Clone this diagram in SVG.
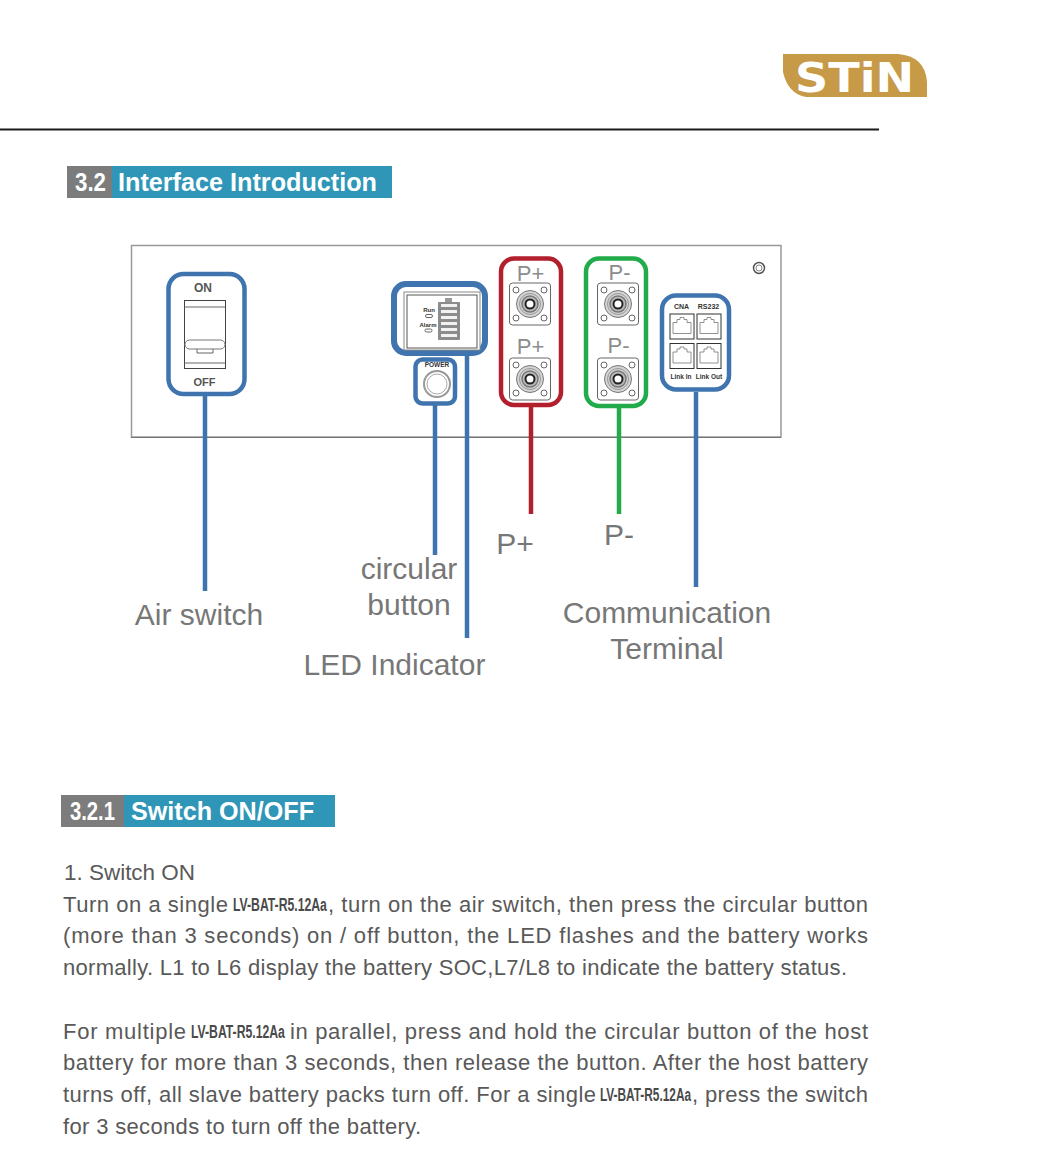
<svg xmlns="http://www.w3.org/2000/svg" width="1060" height="1171" viewBox="0 0 1060 1171">
<style>
text{font-family:"Liberation Sans",Arial,sans-serif}
.lbl{font-size:30px;fill:#777;text-anchor:middle}
.body{font-size:22px;fill:#595959}
.model{font-size:18px;fill:#4a4a4a;font-weight:700}
.part{font-size:22px;fill:#8c8c8c;text-anchor:middle}
.hd{font-size:25px;font-weight:700;fill:#fff}
.tiny{font-size:7px;fill:#333;font-weight:700;text-anchor:middle}
.sw{font-size:12px;fill:#555;font-weight:700;text-anchor:middle}
.box{fill:#fff;stroke-width:4.5}
.blue{stroke:#3f74ae}.red{stroke:#b21f2d}.green{stroke:#22ab4a}
.ln{fill:none;stroke-width:4.5}
.thin{fill:none;stroke:#666;stroke-width:1}
</style>
<defs>
<g id="conn">
<rect x="-20.500" y="-21" width="41" height="42" rx="3" class="thin"/>
<circle cx="-14" cy="-14" r="3" class="thin"/><circle cx="14" cy="-14" r="3" class="thin"/>
<circle cx="-14" cy="14" r="3" class="thin"/><circle cx="14" cy="14" r="3" class="thin"/>
<circle r="13.500" fill="#d4d4d4" stroke="#777" stroke-width="1"/>
<circle r="10.500" fill="none" stroke="#999" stroke-width="1"/>
<circle r="8" fill="#bbb" stroke="#777" stroke-width="1.500"/>
<circle r="4.500" fill="#fff" stroke="#222" stroke-width="2"/>
</g>
<g id="rj">
<rect x="-12" y="-12.500" width="24" height="25" fill="#fff" stroke="#333" stroke-width="1"/>
<path d="M-9,7V-4H-5V-7H-2V-9H2V-7H5V-4H9V7Z" fill="none" stroke="#777" stroke-width="0.800"/>
</g>
</defs>
<rect width="1060" height="1171" fill="#fff"/>

<g id="logo">
<path d="M783,54H898Q925,56 927,82V97H806Q788,94 783,72Z" fill="#c79a48"/>
<text x="795" y="92" font-size="40" font-weight="700" fill="#fff" style="font-family:'DejaVu Sans',sans-serif" textLength="119" lengthAdjust="spacingAndGlyphs">STiN</text>
</g>
<rect id="rule" x="0" y="128.500" width="879" height="2" fill="#1a1a1a"/>

<g id="heading-3-2">
<rect x="67" y="166" width="325" height="32" fill="#2f96b8"/>
<rect x="67" y="166" width="45" height="32" fill="#7c7c7c"/>
<text x="75" y="191" class="hd" textLength="31" lengthAdjust="spacingAndGlyphs">3.2</text>
<text x="118" y="191" class="hd" textLength="259" lengthAdjust="spacingAndGlyphs">Interface Introduction</text>
</g>

<g id="panel">
<rect x="131.500" y="245.500" width="649.500" height="191.500" fill="#fff" stroke="#999" stroke-width="1.500"/>
<path d="M131,437.500H781" stroke="#777" stroke-width="1"/>
<circle cx="759" cy="268" r="5.500" fill="#fff" stroke="#555" stroke-width="1.500"/>
<circle cx="759" cy="268" r="3" fill="none" stroke="#888"/>
</g>

<g id="air-switch">
<rect x="168.500" y="274" width="76" height="120" rx="15" class="box blue"/>
<text x="203" y="292" class="sw">ON</text>
<text x="204.500" y="385.500" class="sw" font-size="11" style="font-size:11px">OFF</text>
<rect x="184.500" y="300.500" width="41" height="68" fill="#fff" stroke="#444" stroke-width="1"/>
<path d="M184.500,307H225.500M184.500,363H225.500M197,349V353H213V349" class="thin"/>
<rect x="185" y="340" width="40" height="9" rx="4.500" fill="#fff" stroke="#777" stroke-width="1"/>
</g>

<g id="led-indicator">
<rect x="394" y="284" width="91" height="69" rx="12" class="box blue" style="stroke-width:6"/>
<rect x="404" y="292" width="76" height="58" fill="#fff" stroke="#888" stroke-width="1"/>
<rect x="407" y="295" width="70" height="53" fill="none" stroke="#555" stroke-width="1"/>
<text x="429" y="312" class="tiny" style="font-size:6px">Run</text>
<text x="428" y="327" class="tiny" style="font-size:6px">Alarm</text>
<rect x="425.500" y="314.500" width="7" height="3" rx="1.500" class="thin"/>
<rect x="425" y="329" width="7" height="3" rx="1.500" class="thin"/>
<rect x="438" y="302" width="22" height="38" rx="1" fill="#8c8c8c"/>
<rect x="445" y="298" width="7" height="4" fill="#999"/>
<path d="M441,305.500H457M441,311.500H457M441,317.500H457M441,323.500H457M441,329.500H457M441,335.500H457" stroke="#f2f2f2" stroke-width="3"/>
</g>

<g id="circular-button">
<rect x="415.500" y="359.500" width="39.500" height="44" rx="7" class="box blue"/>
<text x="437" y="367" class="tiny" style="font-size:6.500px">POWER</text>
<circle cx="437" cy="384" r="13" fill="#fff" stroke="#999" stroke-width="2"/>
<circle cx="437" cy="384" r="10" fill="#fff" stroke="#aaa" stroke-width="1"/>
</g>

<g id="p-plus">
<rect x="501" y="258.500" width="60" height="146.500" rx="13" class="box red"/>
<text x="530.500" y="281" class="part">P+</text>
<use href="#conn" x="530" y="304"/>
<text x="530.500" y="354" class="part">P+</text>
<use href="#conn" x="530" y="379"/>
</g>

<g id="p-minus">
<rect x="586" y="258.500" width="60" height="147.500" rx="13" class="box green"/>
<text x="619.500" y="280" class="part">P-</text>
<use href="#conn" x="618" y="304"/>
<text x="618.500" y="353" class="part">P-</text>
<use href="#conn" x="618" y="379"/>
</g>

<g id="comm-terminal">
<rect x="662" y="295.500" width="67" height="94" rx="14" class="box blue"/>
<text x="681.500" y="309" class="tiny">CNA</text>
<text x="708.500" y="309" class="tiny">RS232</text>
<use href="#rj" x="682" y="326.500"/>
<use href="#rj" x="709" y="326.500"/>
<use href="#rj" x="682" y="356"/>
<use href="#rj" x="709" y="356"/>
<text x="681" y="379" class="tiny" style="font-size:6.500px">Link In</text>
<text x="709" y="379" class="tiny" style="font-size:6.500px">Link Out</text>
</g>

<g id="connectors">
<path d="M205,396V591" class="ln blue"/>
<path d="M435,405V555" class="ln blue"/>
<path d="M467,356V638" class="ln blue"/>
<path d="M531,407V514" class="ln red"/>
<path d="M619,408V514" class="ln green"/>
<path d="M696,392V587" class="ln blue"/>
</g>

<g id="labels">
<text x="199" y="625" class="lbl">Air switch</text>
<text x="409" y="579" class="lbl">circular</text>
<text x="409" y="615" class="lbl">button</text>
<text x="394.500" y="675" class="lbl">LED Indicator</text>
<text x="515" y="554" class="lbl">P+</text>
<text x="619" y="545" class="lbl">P-</text>
<text x="667" y="623" class="lbl">Communication</text>
<text x="667" y="659" class="lbl">Terminal</text>
</g>

<g id="heading-3-2-1">
<rect x="61" y="795" width="274" height="32" fill="#2f96b8"/>
<rect x="61" y="795" width="63" height="32" fill="#7c7c7c"/>
<text x="70" y="820" class="hd" textLength="45" lengthAdjust="spacingAndGlyphs">3.2.1</text>
<text x="131" y="820" class="hd" textLength="183" lengthAdjust="spacingAndGlyphs">Switch ON/OFF</text>
</g>

<g id="body">
<text x="64" y="880" class="body" textLength="131" lengthAdjust="spacingAndGlyphs">1. Switch ON</text>
<text x="63" y="912" class="body" textLength="165" lengthAdjust="spacing">Turn on a single</text>
<text transform="translate(233 911) scale(.68 1)" class="model" textLength="138" lengthAdjust="spacingAndGlyphs">LV-BAT-R5.12Aa</text>
<text x="328" y="912" class="body" textLength="540" lengthAdjust="spacing">, turn on the air switch, then press the circular button</text>
<text x="63" y="943" class="body" textLength="805" lengthAdjust="spacing">(more than 3 seconds) on / off button, the LED flashes and the battery works</text>
<text x="63" y="975" class="body" textLength="784" lengthAdjust="spacing">normally. L1 to L6 display the battery SOC,L7/L8 to indicate the battery status.</text>
<text x="63" y="1039" class="body" textLength="123" lengthAdjust="spacing">For multiple</text>
<text transform="translate(191 1038) scale(.68 1)" class="model" textLength="138" lengthAdjust="spacingAndGlyphs">LV-BAT-R5.12Aa</text>
<text x="290" y="1039" class="body" textLength="578" lengthAdjust="spacing">in parallel, press and hold the circular button of the host</text>
<text x="63" y="1070" class="body" textLength="805" lengthAdjust="spacing">battery for more than 3 seconds, then release the button. After the host battery</text>
<text x="63" y="1102" class="body" textLength="533" lengthAdjust="spacing">turns off, all slave battery packs turn off. For a single</text>
<text transform="translate(600 1101) scale(.66 1)" class="model" textLength="138" lengthAdjust="spacingAndGlyphs">LV-BAT-R5.12Aa</text>
<text x="692" y="1102" class="body" textLength="176" lengthAdjust="spacing">, press the switch</text>
<text x="63" y="1134" class="body" textLength="358" lengthAdjust="spacing">for 3 seconds to turn off the battery.</text>
</g>
</svg>
